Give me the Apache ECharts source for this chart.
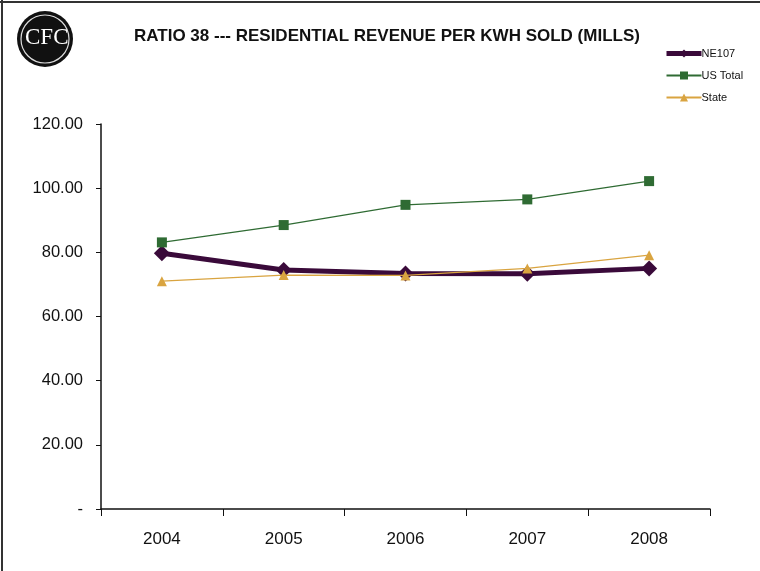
<!DOCTYPE html>
<html><head><meta charset="utf-8">
<script src="https://cdn.jsdelivr.net/npm/echarts@6/dist/echarts.min.js"></script>
<style>html,body{margin:0;padding:0;background:#fff}#c{width:760px;height:571px}</style>
</head><body><div id="c"></div>
<script>
const categories = ['2004','2005','2006','2007','2008'];
const ne107 = [79.7, 74.5, 73.4, 73.3, 75.0];
const usTotal = [83.1, 88.5, 94.8, 96.5, 102.2];
const state = [71.0, 72.9, 72.8, 75.0, 79.1];
const yTicks = {min: 0, max: 120, interval: 20};

const chart = echarts.init(document.getElementById('c'));
chart.setOption({
  animation: false,
  textStyle: {fontFamily: 'Liberation Sans, Arial, sans-serif'},
  title: {
    text: 'RATIO 38 --- RESIDENTIAL REVENUE PER KWH SOLD (MILLS)',
    left: 129, top: 23,
    textStyle: {fontSize: 17, fontWeight: 'bold', color: '#111', fontFamily: 'Liberation Sans, Arial, sans-serif'}
  },
  graphic: [
    {type: 'line', shape: {x1: 2, y1: 0, x2: 2, y2: 571}, style: {stroke: '#333', lineWidth: 2}},
    {type: 'line', shape: {x1: 0, y1: 2, x2: 760, y2: 2}, style: {stroke: '#333', lineWidth: 2}},
    {type: 'circle', shape: {cx: 45, cy: 39, r: 28}, style: {fill: '#111'}},
    {type: 'circle', shape: {cx: 45, cy: 39, r: 24}, style: {fill: 'none', stroke: '#ddd', lineWidth: 1.2}},
    {type: 'text', left: 25, top: 26, style: {text: 'CFC', fill: '#fff', font: '23px "Liberation Serif", serif'}}
  ],
  legend: {
    orient: 'vertical', left: 659, top: 43,
    itemWidth: 35, itemHeight: 10, itemGap: 11,
    textStyle: {fontSize: 11, color: '#111', padding: [0,0,0,-5]},
    data: [{name: 'NE107', lineStyle: {width: 5}}, 'US Total', 'State']
  },
  grid: {left: 101, right: 50, top: 124, bottom: 62},
  xAxis: {
    type: 'category', data: categories, boundaryGap: true,
    axisLine: {lineStyle: {color: '#111', width: 1.5}},
    axisTick: {show: true, alignWithLabel: false, length: 7, lineStyle: {color: '#111'}},
    axisLabel: {fontSize: 17, color: '#111', margin: 22}
  },
  yAxis: {
    type: 'value', min: yTicks.min, max: yTicks.max, interval: yTicks.interval,
    axisLine: {show: true, lineStyle: {color: '#111', width: 1.5}},
    axisTick: {show: true, length: 5, lineStyle: {color: '#111'}},
    splitLine: {show: false},
    axisLabel: {fontSize: 16.5, color: '#111', margin: 18,
      formatter: v => v === 0 ? '-' : v.toFixed(2)}
  },
  series: [
    {name: 'State', type: 'line', data: state, z: 3,
      symbol: 'triangle', symbolSize: 10,
      lineStyle: {color: '#d9a440', width: 1.2}, itemStyle: {color: '#d9a440'}},
    {name: 'NE107', type: 'line', data: ne107, z: 2,
      symbol: 'diamond', symbolSize: 16,
      lineStyle: {color: '#3a0a3a', width: 5}, itemStyle: {color: '#3a0a3a'}},
    {name: 'US Total', type: 'line', data: usTotal, z: 4,
      symbol: 'rect', symbolSize: 10,
      lineStyle: {color: '#2f6b33', width: 1.2}, itemStyle: {color: '#2f6b33'}}
  ]
});
</script></body></html>
